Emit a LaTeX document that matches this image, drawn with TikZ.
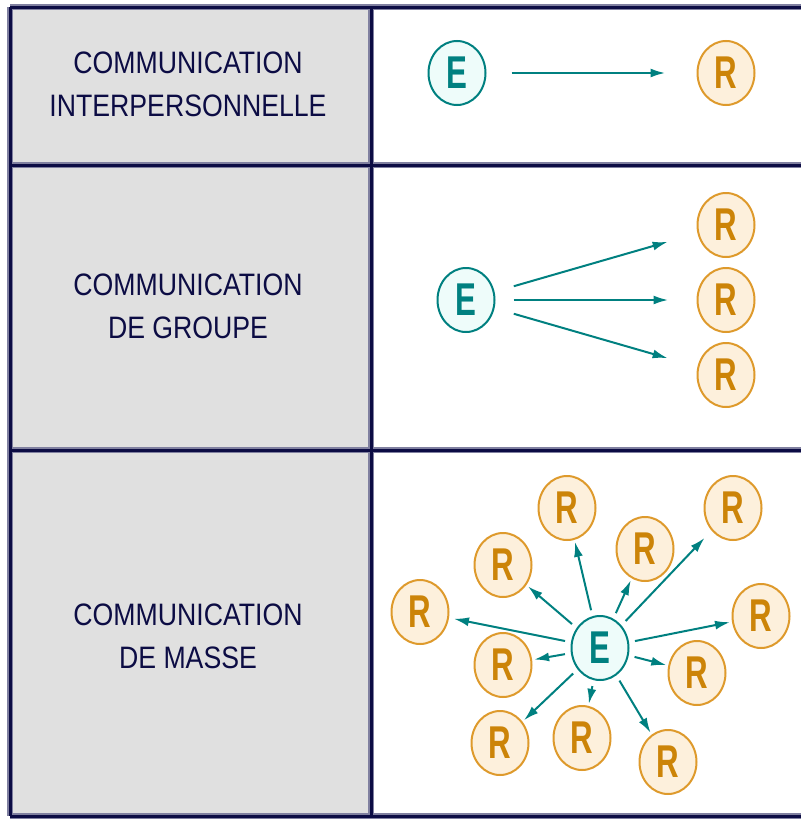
\documentclass[tikz,border=0pt]{standalone}
\usepackage{fontspec}
\newfontfamily\cellfont[FakeStretch=0.86]{Liberation Sans}
\newfontfamily\markfont[FakeStretch=0.68]{Liberation Sans}
\usetikzlibrary{shapes.geometric,arrows.meta}
\definecolor{gridnavy}{HTML}{0C0C44}
\definecolor{gridhalo}{HTML}{8080A0}
\definecolor{cellgray}{HTML}{E0E0E0}
\definecolor{emitteal}{HTML}{008080}
\definecolor{emitfill}{HTML}{EEFCFA}
\definecolor{recvedge}{HTML}{DE9A2C}
\definecolor{recvtext}{HTML}{CC8408}
\definecolor{recvfill}{HTML}{FDF0DC}
\tikzset{line/.style={draw=emitteal, line width=2pt, -{Latex[length=15pt, width=9pt]}}}

\begin{document}
\begin{tikzpicture}[x=1pt, y=-1pt]
\tikzstyle{emit} = [ellipse, draw=emitteal, fill=emitfill, line width=2pt, minimum width=57pt, minimum height=64pt, inner sep=0pt, text=emitteal, font=\markfont\bfseries\fontsize{46}{46}\selectfont]
\tikzstyle{recv} = [ellipse, draw=recvedge, fill=recvfill, line width=2pt, minimum width=57pt, minimum height=64pt, inner sep=0pt, text=recvtext, font=\markfont\bfseries\fontsize{46}{46}\selectfont]
\tikzstyle{rowtext} = [text=gridnavy, align=center, font=\cellfont\fontsize{31}{43}\selectfont]
\tikzstyle{far} = [line, line width=2.4pt, shorten <=25pt, shorten >=31pt]
\tikzstyle{near} = [line, shorten <=6pt, shorten >=2pt]

\useasboundingbox (0,0) rectangle (801,819);

% table
\fill[cellgray] (10,7) rectangle (371,816);
\draw[gridhalo, line width=6pt] (10,7) -- (801,7) (10,165) -- (801,165) (10,450) -- (801,450) (10,816) -- (801,816) (10,7) -- (10,816) (371,7) -- (371,816);
\draw[gridnavy, line width=3pt] (10,7) -- (801,7) (10,165) -- (801,165) (10,450) -- (801,450) (10,816) -- (801,816) (10,7) -- (10,816) (371,7) -- (371,816);

\node [rowtext] (inter_label) at (188,84) {COMMUNICATION\\INTERPERSONNELLE};
\node [rowtext] (groupe_label) at (188,306) {COMMUNICATION\\DE GROUPE};
\node [rowtext] (masse_label) at (188,636) {COMMUNICATION\\DE MASSE};

% interpersonnelle
\node [emit] (inter_e) at (457,73) {E};
\node [recv] (inter_r) at (726,73) {R};
\path [far] (inter_e) -- (inter_r);

% groupe
\node [emit] (groupe_e) at (466,300) {E};
\node [recv] (groupe_r1) at (726,225) {R};
\node [recv] (groupe_r2) at (726,300) {R};
\node [recv] (groupe_r3) at (726,375) {R};
\path [line, shorten <=20pt, shorten >=31pt] (groupe_e) -- (groupe_r1);
\path [line, line width=2.4pt, shorten <=18pt, shorten >=28pt] (groupe_e) -- (groupe_r2);
\path [line, shorten <=20pt, shorten >=31pt] (groupe_e) -- (groupe_r3);

% masse
\node [emit] (masse_e) at (600,648) {E};
\node [recv] (masse_r1) at (567,508) {R};
\node [recv] (masse_r2) at (733,508) {R};
\node [recv] (masse_r3) at (503,565) {R};
\node [recv] (masse_r4) at (645,549) {R};
\node [recv] (masse_r5) at (420,612) {R};
\node [recv] (masse_r6) at (761,616) {R};
\node [recv] (masse_r7) at (503,665) {R};
\node [recv] (masse_r8) at (697,673) {R};
\node [recv] (masse_r9) at (500,743) {R};
\node [recv] (masse_r10) at (582,738) {R};
\node [recv] (masse_r11) at (668,762) {R};
\path [near] (masse_e) -- (masse_r1);
\path [near, shorten >=10pt] (masse_e) -- (masse_r2);
\path [near] (masse_e) -- (masse_r3);
\path [near] (masse_e) -- (masse_r4);
\path [near, shorten >=5pt] (masse_e) -- (masse_r5);
\path [near] (masse_e) -- (masse_r6);
\path [near] (masse_e) -- (masse_r7);
\path [near] (masse_e) -- (masse_r8);
\path [near] (masse_e) -- (masse_r9);
\path [near] (masse_e) -- (masse_r10);
\path [near] (masse_e) -- (masse_r11);

\end{tikzpicture}
\end{document}
